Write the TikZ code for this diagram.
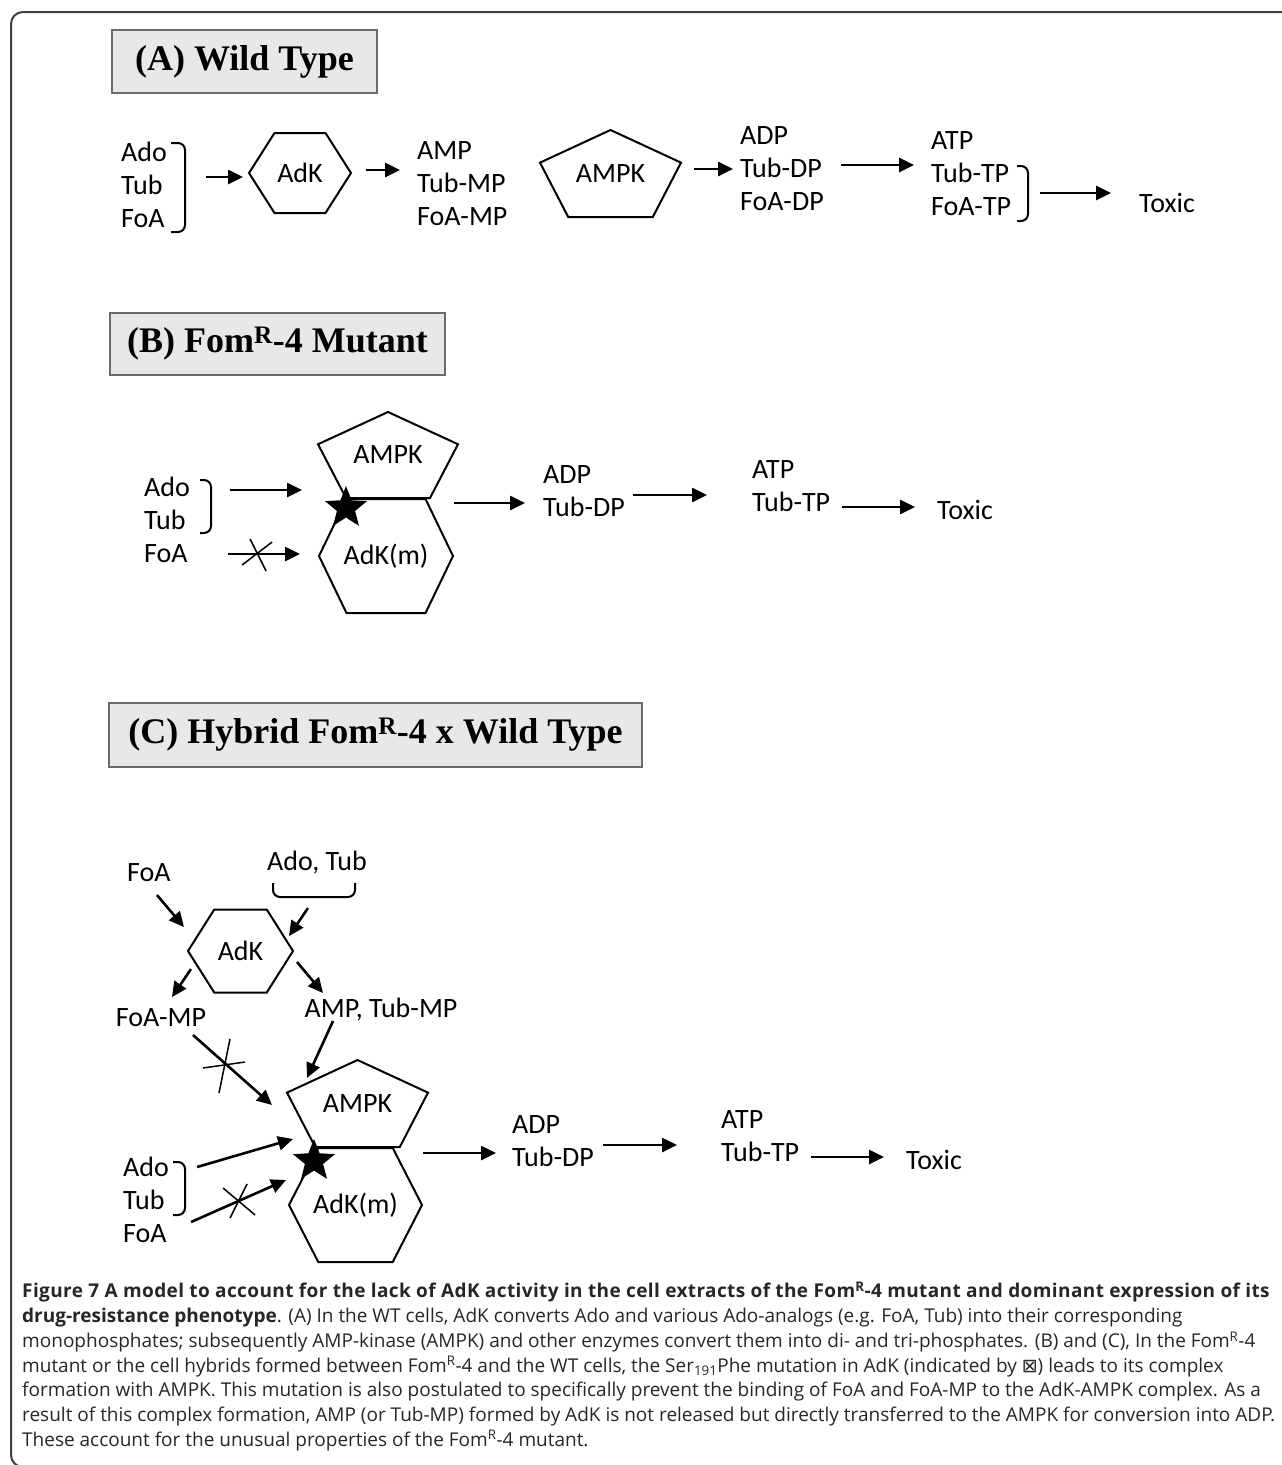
\documentclass[tikz,border=0pt]{standalone}
\usepackage{fontspec}
\setmainfont{Carlito}
\newfontfamily\headfont{Liberation Serif}
\newfontfamily\capfont{Open Sans}
\newfontfamily\boxglyph{DejaVu Sans}
\usetikzlibrary{arrows.meta,calc,positioning,shapes.geometric}

% outlines drawn round the (invisible) enzyme nodes
\newcommand{\hexoutline}[2]{%
  \draw[polyline] (#1.west) -- ($(#1.north)!#2!(#1.north west)$) -- ($(#1.north)!#2!(#1.north east)$) -- (#1.east)
    -- ($(#1.south)!#2!(#1.south east)$) -- ($(#1.south)!#2!(#1.south west)$) -- cycle;}
\newcommand{\pentoutline}[1]{%
  \draw[polyline] (#1.north) -- ($(#1.north east)!.375!(#1.south east)$) -- ($(#1.south)!.6!(#1.south east)$)
    -- ($(#1.south)!.6!(#1.south west)$) -- ($(#1.north west)!.375!(#1.south west)$) -- cycle;}

\begin{document}
\begin{tikzpicture}[x=1pt,y=-1pt,>={Triangle[length=15pt,width=14pt]}]
\tikzstyle{metab}=[inner sep=0pt,align=left,font=\fontsize{28}{33}\selectfont]
\tikzstyle{enzyme}=[inner sep=0pt,outer sep=0pt,font=\fontsize{28}{33}\selectfont]
\tikzstyle{polyline}=[line width=2pt,line join=miter]
\tikzstyle{flow}=[->,line width=2.6pt]
\tikzstyle{blocked}=[line width=1.5pt]
\tikzstyle{bracket}=[line width=2pt,rounded corners=7pt]
\tikzstyle{header}=[draw=black!58,fill=gray!18,line width=2pt,font=\headfont\bfseries\fontsize{36}{40}\selectfont]
\tikzstyle{mutation}=[star,star points=5,star point ratio=2.3,fill=black,inner sep=0pt,minimum size=44pt]
\tikzstyle{frame}=[draw=black!75,line width=2pt,rounded corners=12pt]

\useasboundingbox (0,0) rectangle (1282,1465);
\draw[frame] (11,1467) rectangle (1300,12);

% (A) wild type
\node[header,minimum width=265pt,minimum height=63pt] (hdA) at (244.5,61.5) {(A) Wild Type};
\node[metab,anchor=west] (inA) at (121,185) {Ado\\Tub\\FoA};
\draw[bracket] (171,143) -- (185,143) -- (185,232) -- (171,232);
\node[enzyme,minimum width=102pt,minimum height=80pt] (adkA) at (300,173) {AdK};
\hexoutline{adkA}{.5}
\node[metab,anchor=west] (mpA) at (417,184) {AMP\\Tub-MP\\FoA-MP};
\node[enzyme,minimum width=141pt,minimum height=87pt] (ampkA) at (610.5,173.5) {AMPK};
\pentoutline{ampkA}
\node[metab,anchor=west] (dpA) at (740,169) {ADP\\Tub-DP\\FoA-DP};
\node[metab,anchor=west] (tpA) at (931,174) {ATP\\Tub-TP\\FoA-TP};
\draw[bracket] (1017,166) -- (1028,166) -- (1028,221) -- (1017,221);
\node[metab,anchor=west] (toxA) at (1139,203) {Toxic};

\coordinate (a1) at ($(inA.east)+(39,-8)$);
\draw[flow,shorten >=6pt] (a1) -- (a1 -| adkA.west);
\coordinate (a2) at ($(adkA.east)+(15,-3)$);
\draw[flow,shorten >=17pt] (a2) -- (a2 -| mpA.west);
\coordinate (a3) at ($(ampkA.east)+(13,-4.5)$);
\draw[flow,shorten >=7pt] (a3) -- (a3 -| dpA.west);
\coordinate (a4) at ($(dpA.east)+(17,-4)$);
\draw[flow,shorten >=17pt] (a4) -- (a4 -| tpA.west);
\coordinate (a5) at ($(tpA.east)+(29,19)$);
\draw[flow,shorten >=28pt] (a5) -- (a5 -| toxA.west);

% (B) FomR-4 mutant
\node[header,minimum width=335pt,minimum height=62pt] (hdB) at (277.5,344) {(B) Fom\textsuperscript{R}-4 Mutant};
\node[metab,anchor=west] (inB) at (144,520) {Ado\\Tub\\FoA};
\draw[bracket] (200,480) -- (211,480) -- (211,533) -- (200,533);
\node[enzyme,minimum width=140pt,minimum height=86pt] (ampkB) at (388,455) {AMPK};
\node[enzyme,minimum width=134pt,minimum height=114pt] (admB) at (386,556) {AdK(m)};
\pentoutline{ampkB}
\hexoutline{admB}{.59}
\node[mutation] (starB) at (346,508) {};
\node[metab,anchor=west] (dpB) at (543,491.5) {ADP\\Tub-DP};
\node[metab,anchor=west] (tpB) at (752,486.5) {ATP\\Tub-TP};
\node[metab,anchor=west] (toxB) at (937,510) {Toxic};

\coordinate (b1) at ($(inB.east)+(40,-30)$);
\draw[flow,shorten >=16pt] (b1) -- (b1 -| ampkB.west);
\coordinate (b2) at ($(inB.east)+(38,34)$);
\draw[flow,shorten >=19pt] (b2) -- (b2 -| admB.west);
\coordinate (xB) at ($(b2)+(27,1)$);
\draw[blocked] ($(xB)+(-5,-16)$) -- ($(xB)+(11,16)$) ($(xB)+(-13,10)$) -- ($(xB)+(17,-13)$);
\coordinate (b3) at ($(admB.north east)+(1,4)$);
\draw[flow,shorten >=18pt] (b3) -- (b3 -| dpB.west);
\coordinate (b4) at ($(dpB.east)+(8,3.5)$);
\draw[flow,shorten >=45pt] (b4) -- (b4 -| tpB.west);
\coordinate (b5) at ($(tpB.east)+(12,20.5)$);
\draw[flow,shorten >=22pt] (b5) -- (b5 -| toxB.west);

% (C) hybrid
\node[header,minimum width=533pt,minimum height=64pt] (hdC) at (375.5,735) {(C) Hybrid Fom\textsuperscript{R}-4 x Wild Type};
\node[metab,anchor=west] (foaC) at (127,873) {FoA};
\node[metab] (adotC) at (317,863) {Ado, Tub};
\draw[bracket] (273,883) -- (273,897) -- (355,897) -- (355,883);
\node[enzyme,minimum width=105pt,minimum height=83pt] (adkC) at (240.5,951) {AdK};
\hexoutline{adkC}{.5}
\node[metab] (fmpC) at (161,1018) {FoA-MP};
\node[metab] (ampC) at (381,1010) {AMP, Tub-MP};
\node[enzyme,minimum width=141pt,minimum height=87pt] (ampkC) at (357.5,1103.5) {AMPK};
\node[enzyme,minimum width=133pt,minimum height=114pt] (admC) at (355.5,1205) {AdK(m)};
\pentoutline{ampkC}
\hexoutline{admC}{.56}
\node[mutation] (starC) at (314,1161) {};
\node[metab,anchor=west] (inC) at (123,1200) {Ado\\Tub\\FoA};
\draw[bracket] (173,1162) -- (185,1162) -- (185,1215) -- (173,1215);
\node[metab,anchor=west] (dpC) at (512,1141) {ADP\\Tub-DP};
\node[metab,anchor=west] (tpC) at (721,1136.5) {ATP\\Tub-TP};
\node[metab,anchor=west] (toxC) at (906,1160) {Toxic};

\draw[flow] ($(foaC)+(8,22)$) -- ($(adkC)+(-56.5,-24)$);
\draw[flow] ($(adotC)+(-9,45)$) -- ($(adkC)+(48.5,-15)$);
\draw[flow] ($(adkC)+(-49.5,18)$) -- ($(fmpC)+(11,-21)$);
\draw[flow] ($(adkC)+(56.5,11)$) -- ($(ampC)+(-58,-17)$);
\draw[flow] ($(ampC)+(-48,11)$) -- ($(ampkC)+(-50.5,-25.5)$);
\coordinate (c6) at ($(fmpC)+(32,17)$);
\draw[flow] (c6) -- ($(ampkC)+(-85.5,1.5)$);
\coordinate (xC1) at ($(c6)+(32,28)$);
\draw[blocked] ($(xC1)+(-22,5)$) -- ($(xC1)+(20,-1)$) ($(xC1)+(5,-24)$) -- ($(xC1)+(-6,30)$);
\draw[flow] ($(inC.east)+(28,-33)$) -- ($(starC)+(-21,-22)$);
\coordinate (c8) at ($(inC.east)+(22,22)$);
\draw[flow] (c8) -- ($(starC)+(-28,19)$);
\coordinate (xC2) at ($(c8)+(47,-20)$);
\draw[blocked] ($(xC2)+(-15,-14)$) -- ($(xC2)+(17,13)$) ($(xC2)+(-8,16)$) -- ($(xC2)+(9,-18)$);
\coordinate (c9) at ($(admC.north east)+(1,5)$);
\draw[flow,shorten >=16pt] (c9) -- (c9 -| dpC.west);
\coordinate (c10) at ($(dpC.east)+(9,4)$);
\draw[flow,shorten >=44pt] (c10) -- (c10 -| tpC.west);
\coordinate (c11) at ($(tpC.east)+(12,20.5)$);
\draw[flow,shorten >=22pt] (c11) -- (c11 -| toxC.west);

% caption
\node[anchor=north west,inner sep=0pt,align=left,text=black!85,font=\capfont\fontsize{19}{24.7}\selectfont] (caption) at (22,1282) {%
\textbf{\addfontfeature{LetterSpace=2.1}Figure 7 A model to account for the lack of AdK activity in the cell extracts of the Fom\textsuperscript{R}-4 mutant and dominant expression of its}\\
\textbf{drug-resistance phenotype}. (A) In the WT cells, AdK converts Ado and various Ado-analogs (e.g. FoA, Tub) into their corresponding\\
monophosphates; subsequently AMP-kinase (AMPK) and other enzymes convert them into di- and tri-phosphates. (B) and (C), In the Fom\textsuperscript{R}-4\\
mutant or the cell hybrids formed between Fom\textsuperscript{R}-4 and the WT cells, the Ser\textsubscript{191}Phe mutation in AdK (indicated by {\boxglyph ⊠}) leads to its complex\\
formation with AMPK. This mutation is also postulated to specifically prevent the binding of FoA and FoA-MP to the AdK-AMPK complex. As a\\
result of this complex formation, AMP (or Tub-MP) formed by AdK is not released but directly transferred to the AMPK for conversion into ADP.\\
These account for the unusual properties of the Fom\textsuperscript{R}-4 mutant.};
\end{tikzpicture}
\end{document}
